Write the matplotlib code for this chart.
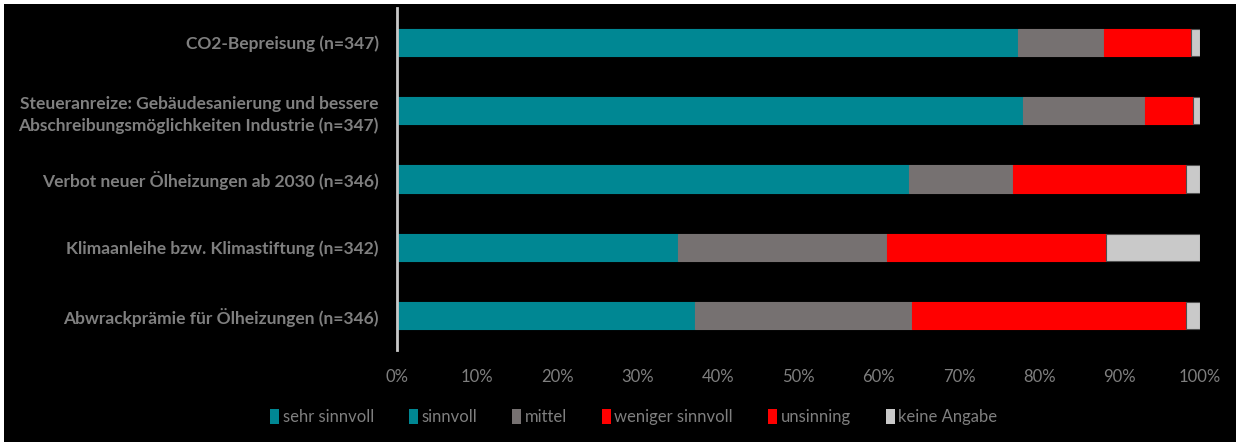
import matplotlib
matplotlib.use("Agg")
import matplotlib.pyplot as plt
from matplotlib.patches import Rectangle, Patch
from matplotlib.ticker import PercentFormatter

categories = [
    "CO2-Bepreisung (n=347)",
    "Steueranreize: Gebäudesanierung und bessere\nAbschreibungsmöglichkeiten Industrie (n=347)",
    "Verbot neuer Ölheizungen ab 2030 (n=346)",
    "Klimaanleihe bzw. Klimastiftung (n=342)",
    "Abwrackprämie für Ölheizungen (n=346)",
]
series_names = ["sehr sinnvoll", "sinnvoll", "mittel", "weniger sinnvoll", "unsinning", "keine Angabe"]
sehr_sinnvoll = [40.0, 42.0, 30.0, 12.0, 14.0]
sinnvoll = [37.3, 36.0, 33.8, 23.0, 23.1]
mittel = [10.7, 15.2, 12.9, 26.0, 27.0]
weniger_sinnvoll = [6.0, 3.5, 12.0, 14.0, 16.0]
unsinning = [4.9, 2.4, 9.6, 13.3, 18.2]
keine_angabe = [1.1, 0.9, 1.7, 11.7, 1.7]
xticks = [0, 10, 20, 30, 40, 50, 60, 70, 80, 90, 100]

colors = ["#008793", "#008793", "#767171", "#FF0000", "#FF0000", "#C9C9C9"]
edges = ["#008793", "#008793", "#767171", "#FF0000", "#FF0000", "#505050"]

plt.rcParams["font.family"] = ["Lato", "DejaVu Sans"]

txt = "#7F7F7F"
fig = plt.figure(figsize=(12.4, 4.46), dpi=100, facecolor="white")
fig.patches.append(Rectangle((4 / 1240, 4 / 446), 1232 / 1240, 438 / 446,
                             transform=fig.transFigure, facecolor="black",
                             edgecolor="none", zorder=-10))
ax = fig.add_axes([397 / 1240, 1 - 350 / 446, 803 / 1240, 342 / 446])
ax.set_facecolor("black")

data = [sehr_sinnvoll, sinnvoll, mittel, weniger_sinnvoll, unsinning, keine_angabe]
ypos = list(range(len(categories)))
left = [0.0] * len(categories)
for name, vals, c, e in zip(series_names, data, colors, edges):
    ax.barh(ypos, vals, left=left, height=0.4, color=c, edgecolor=e,
            linewidth=0.8, label=name)
    left = [l + v for l, v in zip(left, vals)]

ax.set_ylim(len(categories) - 0.5, -0.5)
ax.set_xlim(0, 100)
ax.set_xticks(xticks)
ax.xaxis.set_major_formatter(PercentFormatter(decimals=0))
ax.set_yticks(ypos)
ylabels = ax.set_yticklabels(categories, fontsize=12.5, fontweight="bold", color=txt,
                             linespacing=1.45)
ax.tick_params(axis="y", length=0, pad=13)
ax.tick_params(axis="x", length=0, pad=14, labelsize=12, labelcolor=txt)
for s in ["top", "right", "bottom"]:
    ax.spines[s].set_visible(False)
ax.spines["left"].set_color("#C8C8C8")
ax.spines["left"].set_linewidth(2)

handles = [Patch(facecolor=c, edgecolor="none") for c in colors]
leg = fig.legend(handles, series_names, loc="center", bbox_to_anchor=(0.511, 1 - 417 / 446),
                 ncol=6, frameon=False, fontsize=12, handlelength=0.55,
                 handleheight=1.0, handletextpad=0.2, columnspacing=2.1)
for t in leg.get_texts():
    t.set_color(txt)

# fit category label size so the widest label spans about 360 px
fig.canvas.draw()
r = fig.canvas.get_renderer()
w = max(t.get_window_extent(r).width for t in ylabels)
fs = 12.5 * 360.0 / w
for t in ylabels:
    t.set_fontsize(fs)

fig.savefig("out.png", dpi=100, facecolor="white")
